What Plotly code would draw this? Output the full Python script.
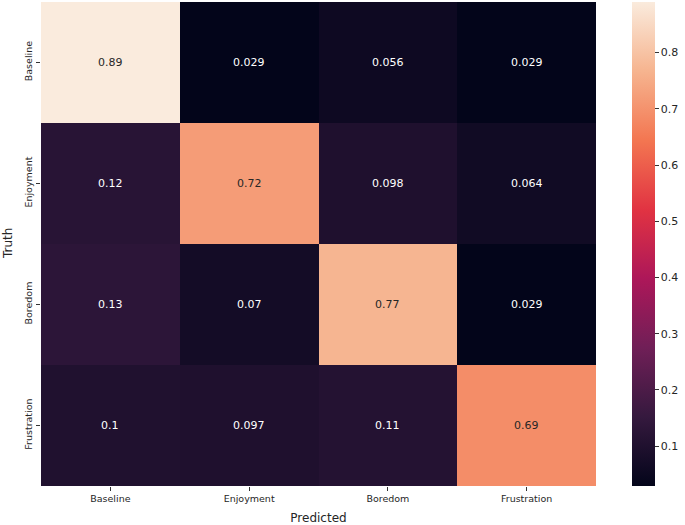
import plotly.graph_objects as go

labels = ["Baseline", "Enjoyment", "Boredom", "Frustration"]
values = [
    [0.89, 0.029, 0.056, 0.029],
    [0.12, 0.72, 0.098, 0.064],
    [0.13, 0.07, 0.77, 0.029],
    [0.1, 0.097, 0.11, 0.69],
]
cbar_ticks = [0.1, 0.2, 0.3, 0.4, 0.5, 0.6, 0.7, 0.8]

rocket = [
    [0.0, "#03051A"],
    [0.143, "#35193E"],
    [0.286, "#701F57"],
    [0.429, "#AD1759"],
    [0.571, "#E13342"],
    [0.714, "#F37651"],
    [0.857, "#F6B48F"],
    [1.0, "#FAEBDD"],
]

zmin = min(min(r) for r in values)
zmax = max(max(r) for r in values)

font = "DejaVu Sans"

fig = go.Figure(
    go.Heatmap(
        z=values,
        x=labels,
        y=labels,
        colorscale=rocket,
        zmin=zmin,
        zmax=zmax,
        colorbar=dict(
            x=1.065,
            xanchor="left",
            xpad=0,
            thickness=23,
            len=1,
            lenmode="fraction",
            y=0.5,
            yanchor="middle",
            ypad=0,
            outlinewidth=0,
            ticks="outside",
            ticklen=4,
            tickwidth=1,
            tickcolor="#333",
            tickvals=cbar_ticks,
            tickfont=dict(family=font, size=11, color="#262626"),
        ),
    )
)

annotations = []
for i, row in enumerate(values):
    for j, v in enumerate(row):
        norm = (v - zmin) / (zmax - zmin)
        color = "#262626" if norm > 0.6 else "white"
        annotations.append(
            dict(
                x=labels[j], y=labels[i], xref="x", yref="y",
                text=str(v), showarrow=False,
                font=dict(family=font, size=11, color=color),
            )
        )
annotations.append(
    dict(
        x=-33 / 555, y=0.5, xref="paper", yref="paper",
        text="Truth", textangle=-90, showarrow=False,
        xanchor="center", yanchor="middle",
        font=dict(family=font, size=12, color="#262626"),
    )
)

fig.update_layout(
    width=685,
    height=525,
    margin=dict(l=41, r=89, t=2, b=39, autoexpand=False),
    paper_bgcolor="white",
    plot_bgcolor="white",
    annotations=annotations,
    font=dict(family=font, color="#262626"),
)
fig.update_xaxes(
    title=dict(text="Predicted", font=dict(family=font, size=12, color="#262626"), standoff=11),
    tickfont=dict(family=font, size=9.5, color="#262626"),
    ticks="outside", ticklen=4, tickcolor="#333",
    showgrid=False, zeroline=False, showline=False,
    automargin=False,
)
fig.update_yaxes(
    tickfont=dict(family=font, size=9.5, color="#262626"),
    tickangle=-90,
    ticks="outside", ticklen=4, tickcolor="#333",
    showgrid=False, zeroline=False, showline=False,
    autorange="reversed",
    automargin=False,
)

fig.write_html(
    "out.html",
    config={"displayModeBar": False},
    post_script="document.body.style.margin='0';document.body.style.overflow='hidden';window.dispatchEvent(new Event('resize'));",
)
